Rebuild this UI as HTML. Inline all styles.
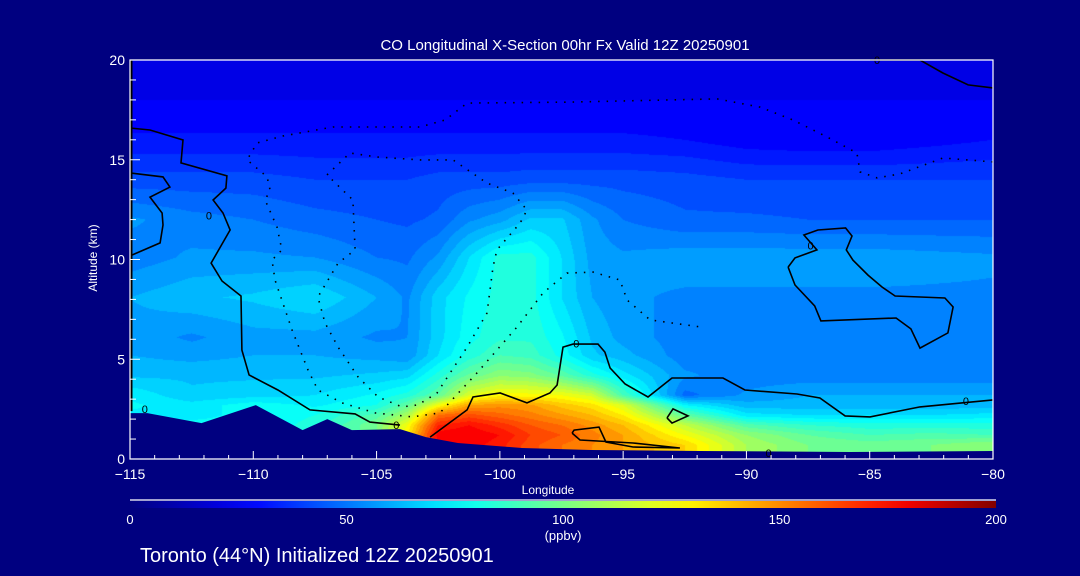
<!DOCTYPE html>
<html><head><meta charset="utf-8"><style>
html,body{margin:0;padding:0;background:#000080;}
body{width:1080px;height:576px;position:relative;overflow:hidden;font-family:"Liberation Sans",sans-serif;}
canvas,svg{position:absolute;left:0;top:0;}
</style></head><body>
<canvas id="field" width="1080" height="576"></canvas>
<svg id="ov" width="1080" height="576"></svg>
<script>
// ---- data ----
const lons = [-115,-112.5,-110,-107.5,-105,-103.75,-102.5,-101.25,-100,-98.75,-97.5,-96.25,-95,-92.5,-90,-87.5,-85,-82.5,-80];
const alts = [0.7,1.2,1.7,2.2,2.7,3.2,4.2,5.2,6.1,8.1,10.1,12,14,16,18,20];
const coRow0 = [76,76,76,80,100,130,175,178,172,162,155,150,145,135,110,100,98,100,105];
const coRow1 = [76,76,76,80,100,130,178,180,175,165,160,152,145,125,105,95,90,92,90];
const coRow2 = [76,76,76,82,100,125,170,175,168,160,155,148,140,115,92,85,82,82,82];
const coRow3 = [74,74,76,80,92,110,155,162,157,152,146,140,130,95,72,70,70,70,72];
const coRow4 = [76,72,78,74,80,95,125,145,148,146,138,132,120,75,62,62,62,62,62];
const coRow5 = [74,66,68,70,76,82,95,120,128,127,125,118,90,48,56,60,60,60,60];
const coRow6 = [64,64,64,64,66,68,82,96,104,102,94,82,72,56,52,52,52,52,52];
const coRow7 = [60,58,60,60,58,56,70,82,90,88,78,66,62,52,52,52,52,52,52];
const coRow8 = [58,54,58,58,54,55,68,78,84,84,76,64,58,52,50,50,50,50,50];
const coRow9 = [60,64,66,70,60,54,68,76,82,82,70,60,56,54,54,54,54,54,54];
const coRow10 = [52,56,56,55,50,49,56,70,82,82,70,58,56,58,58,58,58,57,56];
const coRow11 = [56,52,50,47,45,44,46,54,58,66,66,56,50,46,46,45,45,45,45];
const coRow12 = [42,42,42,40,40,40,42,42,42,43,43,43,43,42,40,40,40,40,40];
const coRow13 = [31,31,31,31,31,31,31,31,31,31,31,31,31,30,27,26,26,28,30];
const coRow14 = [25,25,25,25,25,25,25,25,25,25,25,25,25,25,25,25,25,25,25];
const coRow15 = [20,20,20,20,20,20,20,20,20,20,20,20,20,20,20,20,20,20,20];
const coRows = [coRow0,coRow1,coRow2,coRow3,coRow4,coRow5,coRow6,coRow7,coRow8,coRow9,coRow10,coRow11,coRow12,coRow13,coRow14,coRow15];
const terrainLon = [-115,-114.3,-112.1,-109.9,-108.0,-107.0,-106.0,-104.05,-103.0,-101.7,-99.1,-96.3,-91.9,-85.8,-80];
const terrainAlt = [2.3,2.3,1.8,2.7,1.45,2.0,1.45,1.5,1.1,0.8,0.55,0.45,0.4,0.35,0.4];
const xTicks = [-115,-110,-105,-100,-95,-90,-85,-80];
const yTicks = [0,5,10,15,20];
const cbTicks = [0,50,100,150,200];
const solidA = [[-115,16.59],[-114.19,16.49],[-112.85,15.99],[-112.93,14.84],[-111.07,14.19],[-111.11,13.58],[-111.63,12.98],[-111.23,12.33],[-110.94,11.48],[-111.71,9.82],[-111.27,8.92],[-110.5,8.17],[-110.46,5.46],[-110.17,4.21],[-109.0,3.46],[-107.7,2.46],[-105.87,2.26],[-105.27,1.85],[-104.05,1.7]];
const solidB = [[-102.83,1.1],[-101.33,2.46],[-101.09,3.11],[-99.99,3.31],[-98.9,2.81],[-97.97,3.31],[-97.68,3.71],[-97.44,5.61],[-97.03,5.76],[-96.02,5.76],[-95.74,5.36],[-95.53,4.56],[-94.92,3.76],[-93.99,3.11],[-93.02,4.06],[-90.95,4.06],[-90.06,3.46],[-87.95,3.26],[-87.02,3.06],[-86.0,2.16],[-84.99,2.11],[-82.96,2.61],[-80,2.96]];
const solidC = [[-88.31,9.62],[-88.03,10.08],[-87.14,10.48],[-87.67,11.23],[-87.1,11.48],[-85.98,11.58],[-85.72,11.18],[-85.95,10.48],[-85.68,9.97],[-85.07,9.22],[-84.5,8.62],[-83.97,8.17],[-81.95,8.07],[-81.62,7.62],[-81.83,6.32],[-82.96,5.56],[-83.33,6.52],[-83.93,7.07],[-86.98,6.92],[-87.23,7.67],[-88.03,8.72],[-88.31,9.62]];
const solidD = [[-84.99,20.0],[-82.96,20.0],[-82.03,19.35],[-81.01,18.75],[-80,18.6]];
const solidE = [[-97.07,1.3],[-96.99,1.45],[-95.98,1.6],[-95.7,0.85],[-94.6,0.6],[-92.7,0.55],[-94.6,0.8],[-96.75,0.95],[-97.07,1.3]];
const solidF = [[-93.22,2.06],[-92.98,2.51],[-92.37,2.16],[-93.02,1.8],[-93.22,2.06]];
const solidG = [[-115,14.34],[-113.66,14.14],[-113.38,13.63],[-114.19,13.13],[-113.7,12.33],[-113.66,11.73],[-113.78,10.83],[-115,10.18]];
const dotted1 = [[-80,14.89],[-82.03,15.09],[-83.77,14.29],[-84.7,14.09],[-85.39,14.39],[-85.52,15.34],[-86.73,16.14],[-88.11,16.99],[-89.45,17.64],[-91.19,18.05],[-97.16,17.89],[-101.33,17.84],[-102.22,16.99],[-103.24,16.64],[-106.77,16.64],[-108.8,16.19],[-109.85,15.84],[-110.25,14.99],[-109.44,14.14],[-109.32,13.48],[-109.52,12.98],[-109.04,11.63],[-108.84,10.48],[-109.24,9.97],[-109.12,8.97],[-108.43,6.47],[-107.78,4.46],[-107.38,3.46],[-106.4,2.81],[-105.06,2.31],[-103.56,2.11],[-102.43,2.31],[-100.93,4.31],[-99.3,6.62],[-98.25,8.32],[-97.28,9.32],[-96.22,9.37],[-95.13,8.97],[-94.84,7.97],[-93.91,6.97],[-91.88,6.62]];
const dotted2 = [[-107.01,14.24],[-106.08,15.34],[-104.98,15.14],[-103.24,14.99],[-101.9,14.99],[-100.52,13.83],[-99.47,13.33],[-98.9,12.48],[-99.18,11.83],[-100.12,10.48],[-100.28,9.62],[-100.52,7.32],[-101.33,5.61],[-102.55,3.31],[-103.32,2.71],[-103.97,2.61],[-104.94,3.11],[-105.75,4.11],[-106.56,5.61],[-107.09,6.82],[-107.38,8.12],[-106.56,9.82],[-105.87,10.48],[-105.96,12.98],[-107.01,14.24]];
const zeroLabels = [[-114.4,2.5],[-111.8,12.2],[-104.2,1.7],[-96.9,5.8],[-81.1,2.9],[-89.1,0.3],[-84.7,20.0],[-87.4,10.7]];

// ---- scales ----
const X0=130, X1=993, Y0=459, Y1=60;
function xs(lon){return X0+(lon+115)/35*(X1-X0);}
function ys(a){return Y0-a/20*(Y0-Y1);}
function jet(v){
  const st=[[0,0,0,128],[28,0,0,255],[76,0,255,255],[127,255,255,0],[177,255,0,0],[200,128,0,0]];
  v=Math.max(0,Math.min(200,v));
  for(let i=1;i<st.length;i++){if(v<=st[i][0]){const a=st[i-1],b=st[i],t=(v-a[0])/(b[0]-a[0]);return [a[1]+(b[1]-a[1])*t,a[2]+(b[2]-a[2])*t,a[3]+(b[3]-a[3])*t];}}
  return [128,0,0];
}
function seg(arr,v){let i=0;while(i<arr.length-2&&v>arr[i+1])i++;let t=(v-arr[i])/(arr[i+1]-arr[i]);t=Math.max(0,Math.min(1,t));return [i,t];}
function fieldAt(lon,alt){
  const [i,tx]=seg(lons,lon),[j,ty]=seg(alts,alt);
  const a=coRows[j][i],b=coRows[j][i+1],c=coRows[j+1][i],d=coRows[j+1][i+1];
  return (a*(1-tx)+b*tx)*(1-ty)+(c*(1-tx)+d*tx)*ty;
}
// ---- field ----
const cv=document.getElementById('field'),ctx=cv.getContext('2d');
const W=X1-X0,H=Y0-Y1,img=ctx.createImageData(W,H);
for(let py=0;py<H;py++){const alt=(Y0-(Y1+py+0.5))/(Y0-Y1)*20;
 for(let px=0;px<W;px++){const lon=-115+(px+0.5)/W*35;
  const v=fieldAt(lon,alt),lv=Math.floor(v/5)*5+2.5,c=jet(lv),k=(py*W+px)*4;
  img.data[k]=c[0];img.data[k+1]=c[1];img.data[k+2]=c[2];img.data[k+3]=255;}}
ctx.putImageData(img,X0,Y1);

// ---- overlay ----
const NS='http://www.w3.org/2000/svg',svg=document.getElementById('ov');
function mk(tag,attrs,parent){const e=document.createElementNS(NS,tag);for(const k in attrs)e.setAttribute(k,attrs[k]);(parent||svg).appendChild(e);return e;}
function pts(arr){return arr.map(p=>xs(p[0]).toFixed(1)+','+ys(p[1]).toFixed(1)).join(' ');}
let tp='M'+xs(-115)+','+Y0;
terrainLon.forEach((l,i)=>{tp+=' L'+xs(l).toFixed(1)+','+ys(terrainAlt[i]).toFixed(1);});
tp+=' L'+X1+','+Y0+' Z';
const terr=mk('path',{d:tp,fill:'#000080'});


[solidA,solidB,solidC,solidD,solidE,solidF,solidG].forEach(a=>{
  const l=mk('polyline',{points:pts(a),fill:'none',stroke:'#000','stroke-width':1.6});
  
  
});
[dotted1,dotted2].forEach(a=>{
  const l=mk('polyline',{points:pts(a),fill:'none',stroke:'#000','stroke-width':1.6,'stroke-dasharray':'1.5 7'});
  
  
});
zeroLabels.forEach(p=>{
  const t=mk('text',{x:xs(p[0]),y:ys(p[1])+4,'font-size':11,fill:'#000','text-anchor':'middle'});
  t.textContent='0';
  
  
});
const le=mk('line',{x1:X0+1,y1:Y1,x2:X0+1,y2:ys(2.4),stroke:'#000','stroke-width':3});


const fr=mk('path',{d:`M${X0},${Y0} L${X0},${Y1} L${X1},${Y1} L${X1},${Y0} Z`,fill:'none',stroke:'#fff','stroke-width':1.2});


for(let l=-115;l<=-80;l++){const maj=xTicks.includes(l);
  const t=mk('line',{x1:xs(l),x2:xs(l),y1:Y0,y2:Y0-(maj?8:4),stroke:'#fff','stroke-width':1});
  
  }
for(let a=0;a<=20;a++){const maj=yTicks.includes(a);
  const t=mk('line',{x1:X0,x2:X0+(maj?10:6),y1:ys(a),y2:ys(a),stroke:'#fff','stroke-width':1});
  
  }
xTicks.forEach(l=>{const t=mk('text',{x:xs(l),y:479,'font-size':14,fill:'#fff','text-anchor':'middle'});
  t.textContent=(l<0?'\u2212':'')+Math.abs(l);
  
  });
yTicks.forEach(a=>{const t=mk('text',{x:125,y:ys(a)+5,'font-size':14,fill:'#fff','text-anchor':'end'});
  t.textContent=a;
  
  });
const defs=mk('defs',{});const g=mk('linearGradient',{id:'cbg',x1:0,x2:1,y1:0,y2:0},defs);
for(let v=0;v<=200;v+=10){const c=jet(v);mk('stop',{offset:v/200,'stop-color':`rgb(${c.map(Math.round).join(',')})`},g);}
const cbl=mk('line',{x1:130,x2:996,y1:500,y2:500,stroke:'#fff','stroke-width':1.2});


const cb=mk('rect',{x:130,y:501,width:866,height:7,fill:'url(#cbg)'});


cbTicks.forEach(v=>{const t=mk('text',{x:130+v/200*866,y:524,'font-size':13,fill:'#fff','text-anchor':'middle'});
  t.textContent=v;
  
  });
</script>
<svg width="1080" height="576" style="pointer-events:none">
<text x="565" y="50" font-size="15" fill="#fff" text-anchor="middle" font-family="Liberation Sans">CO Longitudinal X-Section 00hr  Fx Valid 12Z 20250901</text>
<text x="548" y="494" font-size="12" fill="#fff" text-anchor="middle" font-family="Liberation Sans">Longitude</text>
<text transform="translate(97,258) rotate(-90)" font-size="12" fill="#fff" text-anchor="middle" font-family="Liberation Sans">Altitude (km)</text>
<text x="563" y="540" font-size="13" fill="#fff" text-anchor="middle" font-family="Liberation Sans">(ppbv)</text>
<text x="140" y="562" font-size="20" fill="#fff" font-family="Liberation Sans">Toronto (44°N) Initialized 12Z 20250901</text>
</svg>
</body></html>
